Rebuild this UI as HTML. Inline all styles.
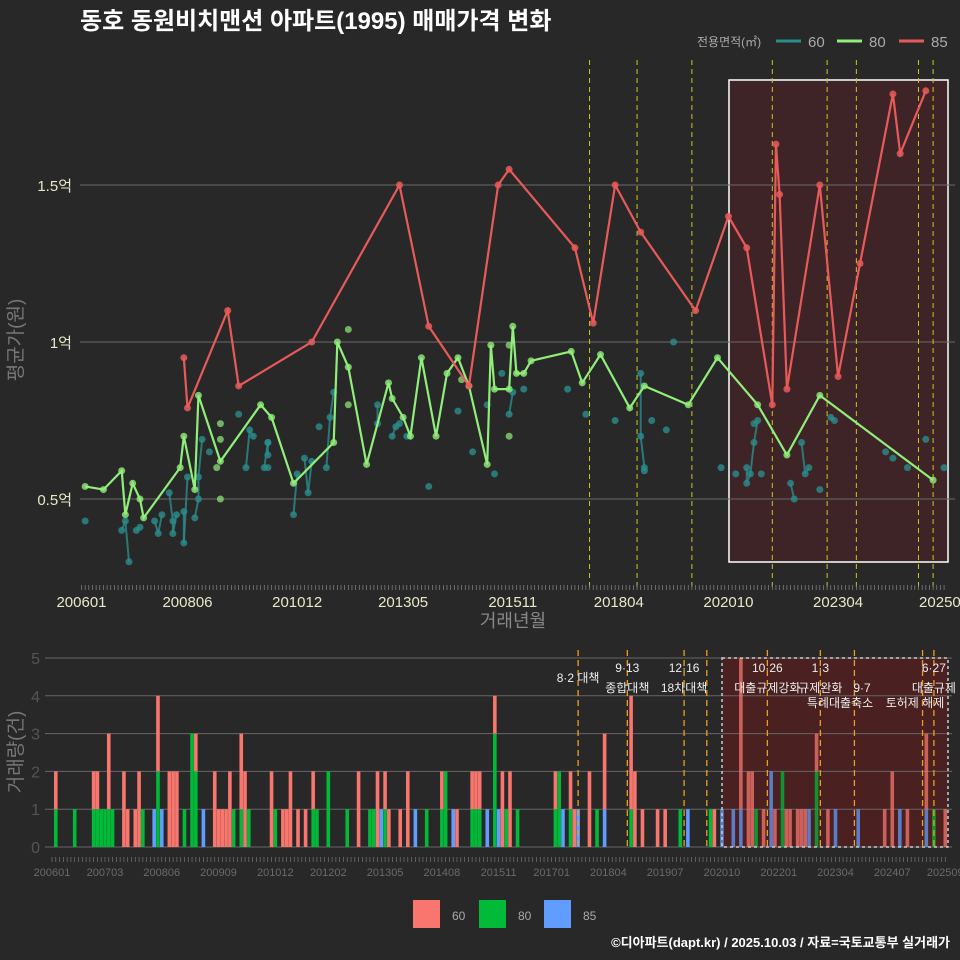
<!DOCTYPE html>
<html><head><meta charset="utf-8">
<style>
html,body{margin:0;padding:0;background:#282828;}
svg{display:block;font-family:"Liberation Sans","Noto Sans CJK KR",sans-serif;}
</style></head>
<body>
<svg id="chart" width="960" height="960" viewBox="0 0 960 960">
<rect x="0" y="0" width="960" height="960" fill="#282828"/>
<text x="80" y="29" font-size="24" font-weight="bold" fill="#ffffff">동호 동원비치맨션 아파트(1995) 매매가격 변화</text>
<g>
<text x="697" y="46" font-size="12" fill="#aaaaaa">전용면적(㎡)</text>
<line x1="776" y1="41" x2="801" y2="41" stroke="#2a8c8c" stroke-width="3"/>
<text x="808" y="47" font-size="15" fill="#aaaaaa">60</text>
<line x1="837" y1="41" x2="862" y2="41" stroke="#90ee7a" stroke-width="3"/>
<text x="869" y="47" font-size="15" fill="#aaaaaa">80</text>
<line x1="899" y1="41" x2="924" y2="41" stroke="#e85a5a" stroke-width="3"/>
<text x="931" y="47" font-size="15" fill="#aaaaaa">85</text>
</g>
<g id="topChart"></g>
<g id="bottomChart"></g>
<text transform="translate(22,340) rotate(-90)" text-anchor="middle" font-size="19" fill="#777777">평균가(원)</text>
<text x="513" y="627" text-anchor="middle" font-size="18" fill="#888888">거래년월</text>
<text transform="translate(22,752) rotate(-90)" text-anchor="middle" font-size="19" fill="#777777">거래량(건)</text>
<g>
<rect x="413" y="900" width="27" height="28" fill="#F8766D"/>
<text x="452" y="920" font-size="12" fill="#aaaaaa">60</text>
<rect x="479" y="900" width="27" height="28" fill="#00BA38"/>
<text x="518" y="920" font-size="12" fill="#aaaaaa">80</text>
<rect x="544" y="900" width="27" height="28" fill="#619CFF"/>
<text x="583" y="920" font-size="12" fill="#aaaaaa">85</text>
</g>
<text x="950" y="947" text-anchor="end" font-size="13" font-weight="bold" fill="#ffffff">©디아파트(dapt.kr) / 2025.10.03 / 자료=국토교통부 실거래가</text>
</svg>
<script>
// ---- price chart data (month index from 2006-01, value in 억) ----
const m85=[28,29,40,43,63,87,95,106,114,117,135,140,146,153,168,177,182,189,190,191,193,202,207,213,222,224,231];
const v85=[0.95,0.79,1.10,0.86,1.0,1.5,1.05,0.86,1.5,1.55,1.30,1.06,1.5,1.35,1.10,1.40,1.30,0.80,1.63,1.47,0.85,1.5,0.89,1.25,1.79,1.60,1.80];
const m80=[1,6,11,12,14,16,17,27,28,31,32,38,49,52,58,69,70,73,78,84,85,88,90,93,97,100,103,106,111,112,113,117,118,119,121,123,134,137,142,150,154,166,174,185,193,202,233];
const v80=[0.54,0.53,0.59,0.45,0.55,0.50,0.44,0.60,0.70,0.53,0.83,0.62,0.80,0.76,0.55,0.68,1.0,0.92,0.61,0.87,0.82,0.76,0.70,0.95,0.70,0.90,0.95,0.86,0.61,0.99,0.85,0.85,1.05,0.90,0.90,0.94,0.97,0.87,0.96,0.79,0.86,0.80,0.95,0.80,0.64,0.83,0.56];
const m80x=[73,38,38,38,37,117,117,73,104];
const v80x=[1.04,0.74,0.69,0.50,0.60,0.70,0.99,0.80,0.88];
const m60=[1,11,12,13,15,16,20,21,22,24,25,25,26,28,28,29,31,32,32,33,35,43,45,46,47,51,51,51,50,51,58,59,61,62,63,65,67,68,69,81,81,85,86,87,89,95,103,107,111,113,115,117,118,121,133,138,146,153,153,154,154,156,160,162,175,179,182,182,183,184,185,184,186,194,195,197,198,199,202,205,206,220,222,226,231,236];
const v60=[0.43,0.40,0.43,0.30,0.40,0.41,0.43,0.39,0.45,0.52,0.43,0.39,0.45,0.46,0.36,0.57,0.44,0.50,0.57,0.69,0.65,0.77,0.60,0.72,0.70,0.64,0.68,0.68,0.60,0.60,0.45,0.58,0.63,0.52,0.62,0.73,0.60,0.76,0.84,0.80,0.74,0.70,0.73,0.74,0.70,0.54,0.78,0.65,0.80,0.58,0.90,0.77,0.84,0.85,0.85,0.77,0.75,0.90,0.70,0.60,0.59,0.75,0.72,1.0,0.60,0.58,0.60,0.55,0.58,0.68,0.75,0.74,0.58,0.55,0.50,0.68,0.58,0.60,0.53,0.76,0.75,0.65,0.63,0.60,0.69,0.60];
const priceTicks=[0.5,1,1.5];
const priceTickLabels=["0.5억","1억","1.5억"];
const xTickMonths=[0,29,59,88,118,147,177,207,236];
const xTickLabels=["200601","200806","201012","201305","201511","201804","202010","202304","202509"];
const policyMonthsTop=[139,152,167,189,204,212,229,233];
// ---- volume chart data ----
const barMonths=[1,6,11,12,13,14,15,16,19,20,22,23,24,27,28,29,31,32,33,35,37,38,40,43,44,45,46,47,48,50,51,52,58,59,61,62,63,65,67,69,70,73,78,81,84,85,86,87,88,89,92,94,96,99,103,104,106,107,111,112,113,115,117,118,119,120,121,123,133,134,135,137,138,139,142,144,146,153,154,156,160,162,166,168,174,175,177,180,182,184,185,186,188,190,191,193,194,195,197,198,199,200,202,205,207,213,220,222,224,226,231,233,236];
const bar60=[1,0,1,1,0,0,2,0,2,1,1,2,0,0,2,0,2,2,2,0,0,1,0,2,1,1,1,2,0,2,2,0,2,0,1,1,2,1,1,1,0,0,0,2,0,0,2,0,1,1,1,2,0,0,1,0,0,1,1,1,1,0,1,0,2,0,2,0,1,0,0,1,1,0,2,0,2,3,2,1,1,1,0,0,0,1,0,0,4,2,2,0,1,0,1,0,1,1,1,1,1,0,1,1,0,0,1,2,0,1,2,0,1];
const bar80=[1,1,1,1,1,1,1,1,0,0,0,0,1,0,2,0,0,0,0,1,3,2,0,0,0,0,0,0,1,1,0,1,0,1,0,0,0,0,0,1,1,2,1,0,1,1,0,0,1,0,0,0,0,1,1,2,0,0,1,1,1,0,3,0,0,1,0,1,1,2,0,1,0,0,0,1,0,1,0,0,0,0,1,0,1,0,0,0,0,0,0,1,0,0,0,2,0,0,0,0,0,0,2,0,0,0,0,0,0,0,0,1,0];
const bar85=[0,0,0,0,0,0,0,0,0,0,0,0,0,1,0,1,0,0,0,0,0,0,1,0,0,0,0,0,0,0,0,0,0,0,0,0,0,0,0,0,0,0,0,0,0,0,0,1,0,0,0,0,1,0,0,0,1,0,0,0,0,1,0,1,0,0,0,0,0,0,1,0,0,1,0,0,1,0,0,0,0,0,0,1,0,0,1,1,1,0,0,0,0,2,0,0,0,0,0,0,0,1,0,0,1,1,0,0,1,0,1,0,0];
const volTicks=[0,1,2,3,4,5];
const volXTickMonths=[0,14,29,44,59,73,88,103,118,132,147,162,177,192,207,222,236];
const volXTickLabels=["200601","200703","200806","200909","201012","201202","201305","201408","201511","201701","201804","201907","202010","202201","202304","202407","202509"];
const policyMonthsBot=[139,152,167,173,189,203,212,230,233];
const policyTexts=[["8·2 대책"],["9·13","종합대책"],["12·16","18차대책"],[],["10·26","대출규제강화"],["1·3","규제완화"],[],[],["6·27","대출규제"]];

const NS="http://www.w3.org/2000/svg";
function mk(tag,attrs,parent){const e=document.createElementNS(NS,tag);for(const k in attrs)e.setAttribute(k,attrs[k]);parent.appendChild(e);return e;}
const xT=m=>81.5+3.655*m;
const yT=v=>342-(v-1)*314;
const xB=m=>52+3.785*m;
const yB=c=>847-c*37.8;

const gTop=document.getElementById('topChart');
const hb=mk('rect',{x:729,y:80,width:219,height:482,fill:'rgba(95,30,35,0.4)',stroke:'#ffffff','stroke-width':1.5},gTop);


priceTicks.forEach((t,i)=>{
 const g=mk('line',{x1:80,x2:955,y1:yT(t),y2:yT(t),stroke:'#6a6a6a','stroke-width':1},gTop);
 
 
 const tx=mk('text',{x:72,y:yT(t)+6,'text-anchor':'end','font-size':15,fill:'#e8e8c8'},gTop);
 tx.textContent=priceTickLabels[i];
 
 
});
policyMonthsTop.forEach(m=>{
 const l=mk('line',{x1:xT(m),x2:xT(m),y1:60,y2:590,stroke:'#c8c820','stroke-width':1,'stroke-dasharray':'5,4'},gTop);
 
 
});
for(let m=0;m<=236;m++){
 const l=mk('line',{x1:xT(m),x2:xT(m),y1:585,y2:590,stroke:'#888','stroke-width':0.7},gTop);
 
 
}
xTickMonths.forEach((m,i)=>{
 const t=mk('text',{x:xT(m),y:607,'text-anchor':'middle','font-size':15,fill:'#e8e8c8'},gTop);
 t.textContent=xTickLabels[i];
 
 
});
for(let i=1;i<m60.length;i++){
 if(Math.abs(m60[i]-m60[i-1])<=1){
  const l=mk('line',{x1:xT(m60[i-1]),y1:yT(v60[i-1]),x2:xT(m60[i]),y2:yT(v60[i]),stroke:'#2a8c8c','stroke-width':2,'stroke-opacity':0.8},gTop);
  
  
 }
}
m60.forEach((m,i)=>{
 const c=mk('circle',{cx:xT(m),cy:yT(v60[i]),r:3.5,fill:'#2a8c8c','fill-opacity':0.8},gTop);
 
 
});
m80x.forEach((m,i)=>{
 const c=mk('circle',{cx:xT(m),cy:yT(v80x[i]),r:3.5,fill:'#90ee7a','fill-opacity':0.7},gTop);
 
 
});
const p80=mk('polyline',{points:m80.map((m,i)=>xT(m)+','+yT(v80[i])).join(' '),fill:'none',stroke:'#90ee7a','stroke-width':2.2},gTop);


m80.forEach((m,i)=>{
 const c=mk('circle',{cx:xT(m),cy:yT(v80[i]),r:3.5,fill:'#90ee7a','fill-opacity':0.8},gTop);
 
 
});
const p85=mk('polyline',{points:m85.map((m,i)=>xT(m)+','+yT(v85[i])).join(' '),fill:'none',stroke:'#e85a5a','stroke-width':2.2},gTop);


m85.forEach((m,i)=>{
 const c=mk('circle',{cx:xT(m),cy:yT(v85[i]),r:3.5,fill:'#e85a5a','fill-opacity':0.85},gTop);
 
 
});

const gBot=document.getElementById('bottomChart');
const bb=mk('rect',{x:722,y:658,width:226,height:189,fill:'#4a2020'},gBot);


volTicks.forEach(t=>{
 const g=mk('line',{x1:45,x2:952,y1:yB(t),y2:yB(t),stroke:'#666','stroke-width':1},gBot);
 
 
 const tx=mk('text',{x:40,y:yB(t)+6,'text-anchor':'end','font-size':16,fill:'#555'},gBot);
 tx.textContent=String(t);
 
 
});
const bw=3.6;
barMonths.forEach((m,i)=>{
 let base=0;
 [[bar85[i]||0,'#619CFF','bar-85'],[bar80[i]||0,'#00BA38','bar-80'],[bar60[i]||0,'#F8766D','bar-60']].forEach(([c,col,nm])=>{
  if(c>0){
   const r=mk('rect',{x:xB(m)-bw/2,y:yB(base+c),width:bw,height:yB(base)-yB(base+c),fill:col,'fill-opacity':(m>=177?0.75:1)},gBot);
   
   
   base+=c;
  }
 });
});
const bbo=mk('rect',{x:722,y:658,width:226,height:189,fill:'none',stroke:'#cccccc','stroke-width':1.5,'stroke-dasharray':'3,3'},gBot);


policyMonthsBot.forEach((m,i)=>{
 const l=mk('line',{x1:xB(m),x2:xB(m),y1:650,y2:850,stroke:'#e8a020','stroke-width':1.3,'stroke-dasharray':'6,4'},gBot);
 
 
 const lines=policyTexts[i];
 lines.forEach((s,j)=>{
  const t=mk('text',{x:xB(m),y:(lines.length===1?682:672+j*20),'text-anchor':'middle','font-size':12,fill:'#eeeeee'},gBot);
  t.textContent=s;
  
  
 });
});
const extraItems=[[862,692,'9·7'],[840,707,'특례대출축소'],[915,707,'토허제 해제']];
extraItems.forEach(([x,y,s])=>{
 const t=mk('text',{x:x,y:y,'text-anchor':'middle','font-size':12,fill:'#eeeeee'},gBot);
 t.textContent=s;
 
 
});
for(let m=0;m<=236;m++){
 const l=mk('line',{x1:xB(m),x2:xB(m),y1:857,y2:862,stroke:'#777','stroke-width':0.7},gBot);
 
 
}
volXTickMonths.forEach((m,i)=>{
 const t=mk('text',{x:xB(m),y:876,'text-anchor':'middle','font-size':11,fill:'#6a6a6a'},gBot);
 t.textContent=volXTickLabels[i];
 
 
});
</script>
</body></html>
